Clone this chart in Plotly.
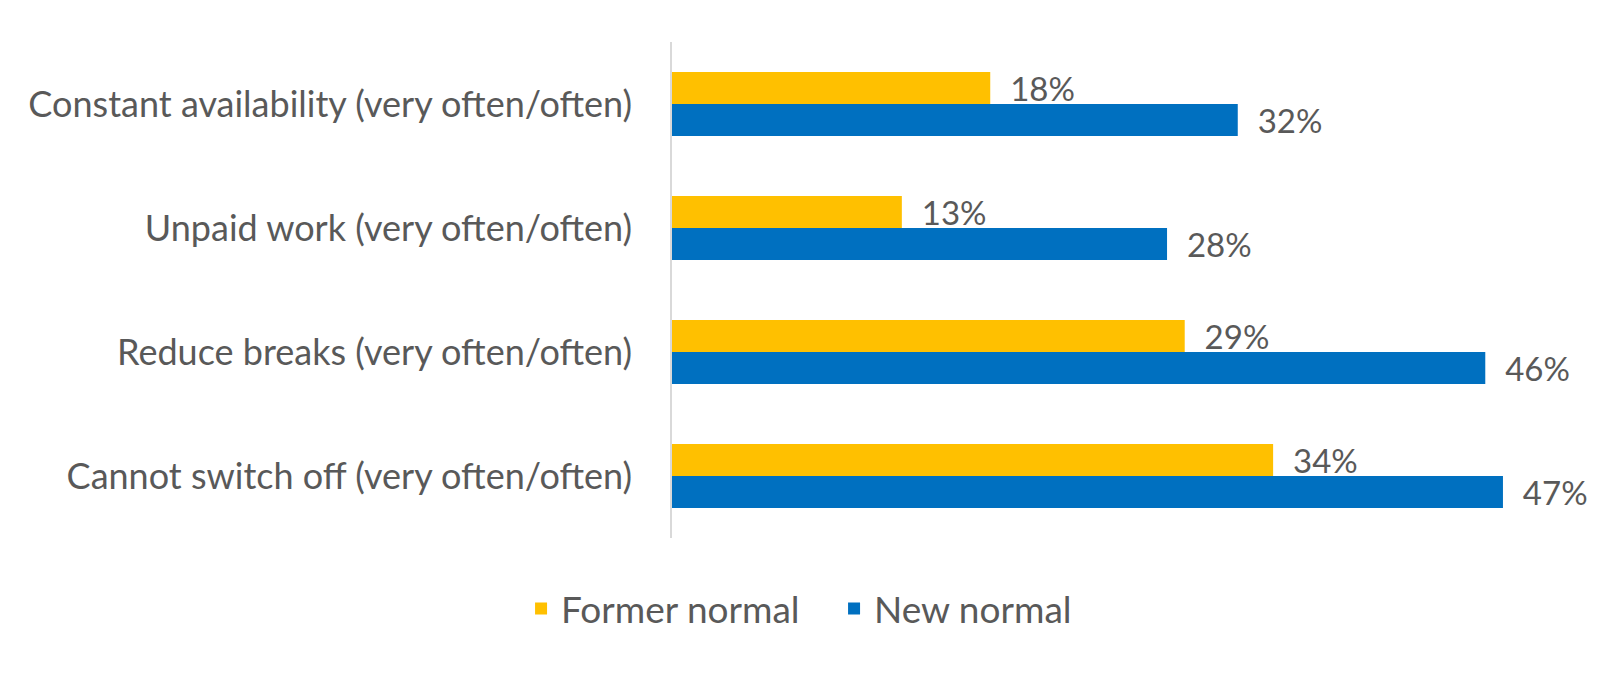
import plotly.graph_objects as go

categories = [
    "Constant availability (very often/often)",
    "Unpaid work (very often/often)",
    "Reduce breaks (very often/often)",
    "Cannot switch off (very often/often)",
]
former_normal = [18, 13, 29, 34]
new_normal = [32, 28, 46, 47]
series_names = ["Former normal", "New normal"]
colors = ["#FFC000", "#0070C0"]

FONT = "Lato"
TXT = "#595959"

fig = go.Figure()
for name, vals, col in zip(series_names, [former_normal, new_normal], colors):
    fig.add_trace(go.Bar(
        y=categories, x=vals, name=name, orientation="h",
        marker=dict(color=col, line=dict(width=0)),
        text=[f"\u00a0\u00a0{v}%" for v in vals],
        textposition="outside", cliponaxis=False, constraintext="none",
        textfont=dict(family=FONT, size=33, color=TXT),
        hoverinfo="skip",
    ))

fig.update_layout(
    width=1584, height=657,
    paper_bgcolor="white", plot_bgcolor="white",
    barmode="group", bargap=0.484, bargroupgap=0,
    margin=dict(l=664, r=36, t=34, b=127, autoexpand=False),
    font=dict(family=FONT, size=36, color=TXT),
    showlegend=True,
    legend=dict(orientation="h", xref="container", x=0.5215, xanchor="center",
                yref="container", y=0.0855, yanchor="middle",
                font=dict(family=FONT, size=37, color=TXT), itemwidth=30,
                traceorder="normal", entrywidth=268),
)
fig.update_xaxes(range=[0, 50], visible=False, showgrid=False, zeroline=False,
                 automargin=False)
fig.update_yaxes(autorange="reversed", showline=True, linecolor="#D9D9D9", linewidth=1.5,
                 showgrid=False, ticks="", ticklabelstandoff=31, automargin=False,
                 tickfont=dict(family=FONT, size=36, color=TXT))

fig.write_html("out.html")
